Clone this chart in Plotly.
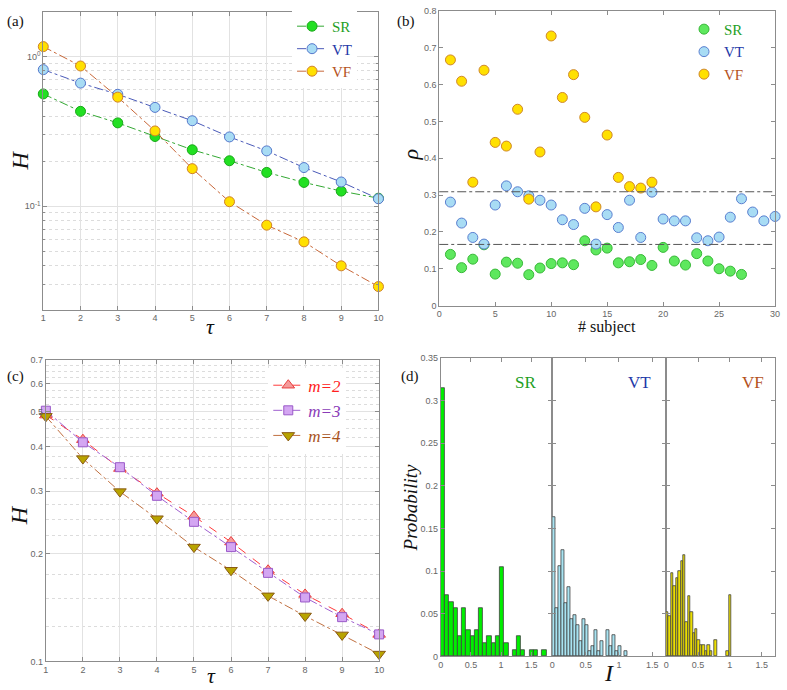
import plotly.graph_objects as go

# ---------------- data ----------------
tau = [1, 2, 3, 4, 5, 6, 7, 8, 9, 10]
H_SR = [0.562, 0.430, 0.360, 0.292, 0.238, 0.201, 0.168, 0.144, 0.126, 0.113]
H_VT = [0.817, 0.664, 0.559, 0.457, 0.372, 0.290, 0.234, 0.181, 0.145, 0.112]
H_VF = [1.164, 0.864, 0.535, 0.318, 0.178, 0.107, 0.0746, 0.0577, 0.0399, 0.0290]

rho_SR = [0.139, 0.103, 0.126, 0.165, 0.0855, 0.118, 0.115, 0.084, 0.102, 0.114,
          0.116, 0.111, 0.176, 0.151, 0.156, 0.116, 0.119, 0.125, 0.109, 0.158,
          0.121, 0.110, 0.141, 0.121, 0.100, 0.0935, 0.0846]
rho_VT = [0.281, 0.224, 0.185, 0.167, 0.273, 0.325, 0.309, 0.298, 0.286, 0.273,
          0.233, 0.220, 0.264, 0.167, 0.247, 0.212, 0.286, 0.185, 0.308, 0.235,
          0.230, 0.230, 0.184, 0.176, 0.186, 0.240, 0.290, 0.254, 0.230, 0.242]
rho_VF = [0.667, 0.609, 0.335, 0.639, 0.443, 0.433, 0.533, 0.289, 0.417, 0.732,
          0.565, 0.627, 0.511, 0.268, 0.463, 0.348, 0.323, 0.319, 0.335]
rho_thresholds = [0.309, 0.166]

H_m2 = [0.490, 0.418, 0.347, 0.296, 0.255, 0.216, 0.180, 0.154, 0.136, 0.119]
H_m3 = [0.504, 0.411, 0.350, 0.291, 0.246, 0.209, 0.177, 0.151, 0.133, 0.119]
H_m4 = [0.486, 0.370, 0.299, 0.251, 0.209, 0.180, 0.1526, 0.134, 0.1186, 0.1048]

binw_SR = 0.07
prob_SR = [0.315, 0.0717, 0.064, 0.0563, 0.0243, 0.0563, 0.0312, 0.0243, 0.0312, 0.0563,
           0.0158, 0.0243, 0.0158, 0.0243, 0.1045, 0.0158, 0, 0.0077, 0.0243, 0.0077,
           0, 0.0077, 0.0077, 0, 0.0077]
binw_VT = 0.045
prob_VT = [0.163, 0.057, 0.106, 0.125, 0.062, 0.081, 0.044, 0.049, 0.037, 0.018,
           0.044, 0.037, 0.006, 0.012, 0.031, 0.006, 0.018, 0, 0.031, 0.012,
           0.025, 0.006, 0.012, 0, 0.006]
binw_VF = 0.038
prob_VF = [0.0524, 0.0474, 0.0975, 0.0821, 0.0921, 0.0998, 0.1114, 0.1187, 0.0397, 0.0713,
           0.052, 0.027, 0.032, 0.0193, 0.0135, 0.0135, 0.0066, 0.0135, 0.0066, 0,
           0.0193, 0, 0, 0, 0, 0.0066, 0.072]

# ---------------- styles ----------------
W, Hh = 787, 690
SERIF = "Liberation Serif"
SANS = "Liberation Sans"
TXT_SR, TXT_VT, TXT_VF = "#1fa01f", "#2338a8", "#b4521c"


def px_x(p):
    return p / W


def px_y(p):
    return 1 - p / Hh


fig = go.Figure()


def add_line(x, y, fill, edge, line, name, legend, xa, ya, symbol="circle", size=10, dash="dashdot"):
    fig.add_trace(go.Scatter(
        x=x, y=y, mode="lines+markers", name=name, legend=legend,
        xaxis=xa, yaxis=ya, cliponaxis=False,
        line=dict(color=line, width=1, dash=dash),
        marker=dict(symbol=symbol, size=size, color=fill, line=dict(color=edge, width=1)),
    ))


# ---- panel (a) ----
add_line(tau, H_SR, "#22e022", "#1aa81a", "#33a833", f'<span style="color:{TXT_SR}">SR</span>', "legend", "x", "y")
add_line(tau, H_VT, "#a8dcf4", "#5577cc", "#4a5ab8", f'<span style="color:{TXT_VT}">VT</span>', "legend", "x", "y")
add_line(tau, H_VF, "#ffe000", "#d0802a", "#c8683a", f'<span style="color:{TXT_VF}">VF</span>', "legend", "x", "y")

# ---- panel (b) ----
subj = lambda arr: list(range(1, len(arr) + 1))
for arr, fill, edge, nm in [(rho_SR, "#5ee85e", "#38b838", f'<span style="color:{TXT_SR}">SR</span>'),
                            (rho_VT, "#a8dcf4", "#5a7fd0", f'<span style="color:{TXT_VT}">VT</span>'),
                            (rho_VF, "#ffe000", "#d0882a", f'<span style="color:{TXT_VF}">VF</span>')]:
    fig.add_trace(go.Scatter(
        x=subj(arr), y=arr, mode="markers", name=nm, legend="legend2",
        xaxis="x2", yaxis="y2", cliponaxis=False,
        marker=dict(symbol="circle", size=10, color=fill, line=dict(color=edge, width=1)),
    ))
for t in rho_thresholds:
    fig.add_shape(type="line", xref="x2 domain", yref="y2", x0=0, x1=1, y0=t, y1=t,
                  line=dict(color="#555555", width=1, dash="dashdot"))

# ---- panel (c) ----
add_line(tau, H_m2, "#f59a9a", "#e84040", "#ff3a3a", '<span style="color:#ff2020">m=2</span>', "legend3", "x3", "y3",
         symbol="triangle-up", size=11, dash="dash")
add_line(tau, H_m3, "#d4a6f2", "#9a5ac8", "#a060d0", '<span style="color:#8a3cb8">m=3</span>', "legend3", "x3", "y3",
         symbol="square", size=9)
add_line(tau, H_m4, "#b8a400", "#8a5a14", "#c07040", '<span style="color:#a8521c">m=4</span>', "legend3", "x3", "y3",
         symbol="triangle-down", size=11)

# ---- panel (d) ----
for probs, w, col, xa, ya in [(prob_SR, binw_SR, "#00ee00", "x4", "y4"),
                              (prob_VT, binw_VT, "#a8e4f2", "x5", "y5"),
                              (prob_VF, binw_VF, "#ecdf00", "x6", "y6")]:
    xs = [(k + 0.5) * w for k, p in enumerate(probs) if p > 0]
    ys = [p for p in probs if p > 0]
    fig.add_trace(go.Bar(x=xs, y=ys, width=w, xaxis=xa, yaxis=ya, showlegend=False,
                         marker=dict(color=col, line=dict(color="#404040", width=0.8))))

# ---------------- axes ----------------
tickfont = dict(family=SANS, size=9, color="#666666")
base = dict(showline=True, linecolor="#8c8c8c", linewidth=1, mirror="ticks", ticks="inside",
            ticklen=4, tickcolor="#8c8c8c", tickfont=tickfont, zeroline=False)

minor_a = [v * s for s in (0.01, 0.1) for v in range(2, 10)]
minor_c = [0.125, 0.15, 0.175, 0.225, 0.25, 0.275, 0.325, 0.35, 0.375, 0.425, 0.45, 0.475,
           0.525, 0.55, 0.575, 0.625, 0.65, 0.675]
hist_ticks = [0, 0.5, 1, 1.5]
hist_text = ["0", "0.5", "1", "1.5"]

fig.update_layout(
    xaxis=dict(base, domain=[px_x(40.7), px_x(379.3)], range=[1, 10], tickvals=tau,
               showgrid=True, gridcolor="#e2e2e2", anchor="y"),
    yaxis=dict(base, domain=[px_y(309), px_y(7)], type="log", range=[-1.691, 0.298],
               tickvals=[0.1, 1], ticktext=["10<sup>-1</sup>", "10<sup>0</sup>"],
               showgrid=True, gridcolor="#e2e2e2", anchor="x",
               minor=dict(tickvals=minor_a, showgrid=True, gridcolor="#dcdcdc", griddash="dot",
                          ticks="inside", ticklen=2, tickcolor="#8c8c8c")),
    xaxis2=dict(base, domain=[px_x(440.7), px_x(780)], range=[0, 30], dtick=5, tick0=0,
                showgrid=False, anchor="y2"),
    yaxis2=dict(base, domain=[px_y(305), px_y(6)], range=[0, 0.8], dtick=0.1, tick0=0,
                showgrid=False, anchor="x2"),
    xaxis3=dict(base, domain=[px_x(43.3), px_x(380)], range=[1, 10], tickvals=tau,
                showgrid=True, gridcolor="#e2e2e2", anchor="y3"),
    yaxis3=dict(base, domain=[px_y(666), px_y(360)], type="log", range=[-1, -0.15490],
                tickvals=[0.1, 0.2, 0.3, 0.4, 0.5, 0.6, 0.7],
                ticktext=["0.1", "0.2", "0.3", "0.4", "0.5", "0.6", "0.7"],
                showgrid=True, gridcolor="#e2e2e2", anchor="x3",
                minor=dict(tickvals=minor_c, showgrid=True, gridcolor="#dcdcdc", griddash="dot",
                           ticks="")),
    xaxis4=dict(base, domain=[px_x(442.3), px_x(555)], range=[0, 1.85], tickvals=hist_ticks,
                ticktext=hist_text, showgrid=False, anchor="y4"),
    xaxis5=dict(base, domain=[px_x(555), px_x(670)], range=[0, 1.71], tickvals=hist_ticks,
                ticktext=hist_text, showgrid=False, anchor="y5"),
    xaxis6=dict(base, domain=[px_x(670), px_x(780)], range=[0, 1.71], tickvals=hist_ticks,
                ticktext=hist_text, showgrid=False, anchor="y6"),
    yaxis4=dict(base, domain=[px_y(661), px_y(358.3)], range=[0, 0.35], dtick=0.05, tick0=0,
                showgrid=False, anchor="x4"),
    yaxis5=dict(base, domain=[px_y(661), px_y(358.3)], range=[0, 0.35], dtick=0.05, tick0=0,
                showgrid=False, anchor="x5", showticklabels=False),
    yaxis6=dict(base, domain=[px_y(661), px_y(358.3)], range=[0, 0.35], dtick=0.05, tick0=0,
                showgrid=False, anchor="x6", showticklabels=False),
    width=W, height=Hh, autosize=False,
    margin=dict(l=0, r=0, t=0, b=0),
    paper_bgcolor="white", plot_bgcolor="white",
    bargap=0,
    legend=dict(x=px_x(292), y=px_y(5), xanchor="left", yanchor="top", bgcolor="white",
                font=dict(family=SERIF, size=15), itemwidth=30, tracegroupgap=0),
    legend2=dict(x=px_x(688), y=px_y(8), xanchor="left", yanchor="top", bgcolor="rgba(0,0,0,0)",
                 font=dict(family=SERIF, size=15), itemwidth=30),
    legend3=dict(x=px_x(268), y=px_y(368), xanchor="left", yanchor="top", bgcolor="white",
                 font=dict(family=SERIF, size=17, style="italic"), itemwidth=30),
)

# ---------------- text annotations ----------------
def ann(text, x, y, size=15, color="#111111", italic=False, angle=0):
    fig.add_annotation(text=text, x=px_x(x), y=px_y(y), xref="paper", yref="paper",
                       showarrow=False, textangle=angle, xanchor="center", yanchor="middle",
                       font=dict(family=SERIF, size=size, color=color,
                                 style="italic" if italic else "normal"))


ann("(a)", 13, 17, 15)
ann("(b)", 407, 17, 15)
ann("(c)", 13, 377, 15)
ann("(d)", 411, 377, 15)
ann("H", 17, 158, 24, italic=True, angle=-90)
ann("τ", 210, 326, 22, italic=True)
ann("ρ", 412, 152, 22, italic=True, angle=-90)
ann("# subject", 610, 327, 16)
ann("H", 17, 518, 24, italic=True, angle=-90)
ann("τ", 211, 680, 22, italic=True)
ann("Probability", 412, 510, 19, italic=True, angle=-90)
ann("I", 612, 678, 24, italic=True)
ann("SR", 528, 383, 17, color=TXT_SR)
ann("VT", 643, 383, 17, color=TXT_VT)
ann("VF", 758, 383, 17, color=TXT_VF)

fig.write_html("out.html", config={"displayModeBar": False},
               post_script="document.body.style.margin='0';document.body.style.overflow='hidden';")
